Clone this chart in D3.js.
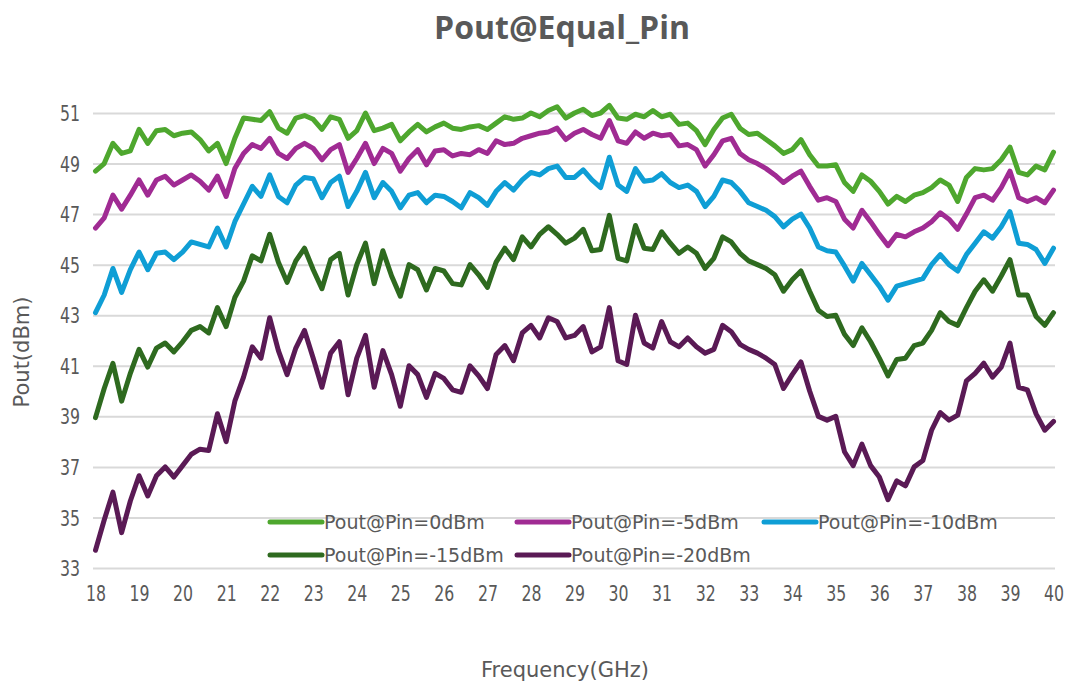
<!DOCTYPE html>
<html>
<head>
<meta charset="utf-8">
<script src="https://cdn.jsdelivr.net/npm/d3@7"></script>
<style>
  body { margin: 0; background: #fff; }
  .tick text { fill: #595959; font-family: "DejaVu Sans", sans-serif; font-size: 21px; }
</style>
</head>
<body>
<script>
var freq = [
  18.0, 18.2, 18.4, 18.6, 18.8, 19.0, 19.2, 19.4, 19.6, 19.8,
  20.0, 20.2, 20.4, 20.6, 20.8, 21.0, 21.2, 21.4, 21.6, 21.8,
  22.0, 22.2, 22.4, 22.6, 22.8, 23.0, 23.2, 23.4, 23.6, 23.8,
  24.0, 24.2, 24.4, 24.6, 24.8, 25.0, 25.2, 25.4, 25.6, 25.8,
  26.0, 26.2, 26.4, 26.6, 26.8, 27.0, 27.2, 27.4, 27.6, 27.8,
  28.0, 28.2, 28.4, 28.6, 28.8, 29.0, 29.2, 29.4, 29.6, 29.8,
  30.0, 30.2, 30.4, 30.6, 30.8, 31.0, 31.2, 31.4, 31.6, 31.8,
  32.0, 32.2, 32.4, 32.6, 32.8, 33.0, 33.2, 33.4, 33.6, 33.8,
  34.0, 34.2, 34.4, 34.6, 34.8, 35.0, 35.2, 35.4, 35.6, 35.8,
  36.0, 36.2, 36.4, 36.6, 36.8, 37.0, 37.2, 37.4, 37.6, 37.8,
  38.0, 38.2, 38.4, 38.6, 38.8, 39.0, 39.2, 39.4, 39.6, 39.8,
  40.0
];

var pin0 = [
  48.7, 49.0, 49.8, 49.4, 49.5, 50.35, 49.8, 50.3, 50.35, 50.1,
  50.2, 50.25, 49.95, 49.5, 49.8, 49.0, 50.0, 50.8, 50.75, 50.7,
  51.05, 50.4, 50.2, 50.8, 50.9, 50.75, 50.35, 50.85, 50.75, 50.0,
  50.3, 51.0, 50.3, 50.4, 50.55, 49.9, 50.25, 50.55, 50.25, 50.45,
  50.6, 50.4, 50.35, 50.45, 50.5, 50.35, 50.6, 50.85, 50.75, 50.8,
  51.0, 50.85, 51.1, 51.25, 50.8, 51.0, 51.15, 50.9, 51.0, 51.3,
  50.8, 50.75, 50.95, 50.85, 51.1, 50.85, 50.95, 50.55, 50.6, 50.3,
  49.75, 50.35, 50.8, 50.95, 50.4, 50.15, 50.2, 49.95, 49.7, 49.4,
  49.55, 49.95, 49.35, 48.9, 48.9, 48.95, 48.25, 47.9, 48.55, 48.3,
  47.9, 47.4, 47.7, 47.5, 47.75, 47.85, 48.05, 48.35, 48.15, 47.5,
  48.45, 48.8, 48.75, 48.8, 49.15, 49.65, 48.65, 48.55, 48.9, 48.75,
  49.45
];

var pinM5 = [
  46.45, 46.85, 47.75, 47.2, 47.75, 48.35, 47.75, 48.35, 48.5, 48.15,
  48.35, 48.55, 48.3, 47.95, 48.5, 47.7, 48.8, 49.4, 49.75, 49.6,
  50.0, 49.4, 49.2, 49.6, 49.8, 49.6, 49.15, 49.55, 49.75, 48.65,
  49.2, 49.8, 49.0, 49.6, 49.4, 48.7, 49.2, 49.55, 48.95, 49.5,
  49.55, 49.3, 49.4, 49.35, 49.55, 49.4, 49.9, 49.75, 49.8, 50.0,
  50.1, 50.2, 50.25, 50.4, 49.95, 50.2, 50.35, 50.15, 50.0, 50.7,
  49.9, 49.8, 50.25, 50.0, 50.2, 50.1, 50.15, 49.7, 49.75, 49.55,
  48.9, 49.35, 49.9, 50.0, 49.4, 49.15, 49.0, 48.8, 48.55, 48.25,
  48.5, 48.7, 48.1, 47.55, 47.65, 47.5, 46.8, 46.45, 47.15, 46.7,
  46.2, 45.75, 46.2, 46.1, 46.3, 46.45, 46.7, 47.05, 46.8, 46.4,
  47.0, 47.65, 47.75, 47.55, 48.05, 48.7, 47.65, 47.5, 47.65, 47.45,
  47.95
];

var pinM10 = [
  43.1, 43.8, 44.85, 43.9, 44.8, 45.5, 44.8, 45.45, 45.5, 45.2,
  45.5, 45.9, 45.8, 45.7, 46.45, 45.7, 46.7, 47.4, 48.1, 47.7,
  48.55, 47.7, 47.45, 48.15, 48.45, 48.4, 47.65, 48.25, 48.5, 47.3,
  47.9, 48.65, 47.65, 48.25, 47.9, 47.25, 47.75, 47.85, 47.45, 47.75,
  47.7, 47.5, 47.25, 47.85, 47.65, 47.35, 47.9, 48.25, 47.95, 48.35,
  48.65, 48.55, 48.8, 48.9, 48.45, 48.45, 48.75, 48.35, 48.05, 49.25,
  48.15, 47.9, 48.8, 48.3, 48.35, 48.6, 48.25, 48.05, 48.15, 47.9,
  47.3, 47.7, 48.35, 48.25, 47.9, 47.45, 47.3, 47.15, 46.9, 46.5,
  46.8, 47.0, 46.45, 45.7, 45.55, 45.5, 44.95, 44.35, 45.05, 44.6,
  44.15, 43.6, 44.15, 44.25, 44.35, 44.45, 45.0, 45.4, 45.0, 44.75,
  45.4, 45.85, 46.3, 46.05, 46.5, 47.1, 45.85, 45.8, 45.6, 45.05,
  45.65
];

var pinM15 = [
  38.95, 40.1, 41.1, 39.6, 40.7, 41.65, 40.95, 41.7, 41.9, 41.55,
  41.95, 42.4, 42.55, 42.3, 43.3, 42.55, 43.7, 44.35, 45.35, 45.15,
  46.2, 45.1, 44.3, 45.15, 45.65, 44.8, 44.05, 45.2, 45.45, 43.8,
  45.0, 45.85, 44.25, 45.55, 44.55, 43.75, 45.0, 44.8, 44.0, 44.85,
  44.75, 44.25, 44.2, 45.0, 44.6, 44.1, 45.1, 45.65, 45.2, 46.1,
  45.7, 46.2, 46.5, 46.2, 45.85, 46.05, 46.4, 45.55, 45.6, 46.95,
  45.25, 45.15, 46.55, 45.65, 45.6, 46.3, 45.85, 45.45, 45.7, 45.45,
  44.85, 45.25, 46.1, 45.9, 45.45, 45.15, 45.0, 44.85, 44.6, 43.95,
  44.4, 44.75, 43.95, 43.2, 42.95, 43.0, 42.25, 41.8, 42.5, 41.95,
  41.3, 40.6, 41.25, 41.3, 41.8, 41.9, 42.4, 43.1, 42.75, 42.6,
  43.3, 43.95, 44.4, 43.95, 44.55, 45.2, 43.8, 43.8, 42.95, 42.6,
  43.1
];

var pinM20 = [
  33.7, 34.9, 36.0, 34.4, 35.65, 36.65, 35.85, 36.65, 37.0, 36.6,
  37.05, 37.5, 37.7, 37.65, 39.1, 38.0, 39.6, 40.55, 41.75, 41.3,
  42.9, 41.6, 40.65, 41.7, 42.4, 41.3, 40.15, 41.5, 41.95, 39.85,
  41.3, 42.2, 40.15, 41.6, 40.65, 39.4, 41.0, 40.65, 39.75, 40.7,
  40.5, 40.05, 39.95, 41.0, 40.6, 40.1, 41.45, 41.8, 41.2, 42.3,
  42.6, 42.1, 42.9, 42.75, 42.1, 42.2, 42.55, 41.55, 41.75, 43.3,
  41.2, 41.05, 43.0, 41.9, 41.7, 42.75, 41.95, 41.75, 42.1, 41.75,
  41.5, 41.65, 42.6, 42.35, 41.85, 41.65, 41.5, 41.3, 41.05, 40.1,
  40.65, 41.15, 40.0, 39.0, 38.85, 39.0, 37.6, 37.05, 37.9, 37.05,
  36.6, 35.7, 36.45, 36.25, 37.0, 37.25, 38.45, 39.15, 38.85, 39.05,
  40.4, 40.7, 41.1, 40.55, 40.95, 41.9, 40.15, 40.05, 39.1, 38.45,
  38.8
];

var seriesNames = ["Pout@Pin=0dBm", "Pout@Pin=-5dBm", "Pout@Pin=-10dBm", "Pout@Pin=-15dBm", "Pout@Pin=-20dBm"];
var seriesValues = [pin0, pinM5, pinM10, pinM15, pinM20];
var seriesColors = ["#4ea72e", "#a02b93", "#0f9ed5", "#2e6a1f", "#5a1a55"];

var xTicks = [18, 19, 20, 21, 22, 23, 24, 25, 26, 27, 28, 29, 30, 31, 32, 33, 34, 35, 36, 37, 38, 39, 40];
var yTicks = [33, 35, 37, 39, 41, 43, 45, 47, 49, 51];

var width = 1071, height = 686;
var gridLeft = 93, gridRight = 1055;
var narrow = 0.75; // tick labels are a condensed face in the original

var x = d3.scaleLinear().domain([18, 40]).range([95.5, 1053.5]);
var y = d3.scaleLinear().domain([33, 51]).range([568, 113]);

var svg = d3.select("body").append("svg")
    .attr("width", width)
    .attr("height", height);

// gridlines + y labels
var yAxis = svg.append("g")
    .attr("transform", "translate(" + gridLeft + ",0)")
    .call(d3.axisLeft(y).tickValues(yTicks).tickSize(-(gridRight - gridLeft)).tickPadding(13));
yAxis.select(".domain").remove();
yAxis.selectAll(".tick line").attr("stroke", "#d9d9d9").attr("stroke-width", 2);
yAxis.selectAll(".tick text")
    .attr("dy", "0.36em")
    .attr("x", -13 / narrow)
    .attr("transform", "scale(" + narrow + ",1)");

// x labels
var xAxis = svg.append("g")
    .attr("transform", "translate(0," + y(33) + ")")
    .call(d3.axisBottom(x).tickValues(xTicks).tickSize(0).tickPadding(18));
xAxis.select(".domain").remove();
xAxis.selectAll(".tick text").attr("transform", "scale(" + narrow + ",1)");

// series lines
var line = d3.line()
    .x(function(d, i) { return x(freq[i]); })
    .y(function(d) { return y(d); });

svg.append("g").selectAll("path")
    .data(seriesValues)
  .enter().append("path")
    .attr("d", line)
    .attr("fill", "none")
    .attr("stroke", function(d, i) { return seriesColors[i]; })
    .attr("stroke-width", 5)
    .attr("stroke-linejoin", "round")
    .attr("stroke-linecap", "round");

// legend
var legend = svg.append("g").selectAll("g")
    .data(seriesNames)
  .enter().append("g")
    .attr("transform", function(d, i) {
      var col = i % 3, row = Math.floor(i / 3);
      return "translate(" + (270 + col * 247) + "," + (522 + row * 33) + ")";
    });

legend.append("line")
    .attr("x1", 0).attr("x2", 52)
    .attr("stroke", function(d, i) { return seriesColors[i]; })
    .attr("stroke-width", 5)
    .attr("stroke-linecap", "round");

legend.append("text")
    .attr("x", 54)
    .attr("dy", "0.36em")
    .style("font-family", "'DejaVu Sans', sans-serif")
    .style("font-size", "19px")
    .style("fill", "#595959")
    .text(function(d) { return d; });

// titles
svg.append("text")
    .attr("x", 562).attr("y", 39)
    .attr("text-anchor", "middle")
    .style("font-family", "'Open Sans', sans-serif")
    .style("font-weight", "bold")
    .style("font-size", "32px")
    .style("fill", "#595959")
    .text("Pout@Equal_Pin");

svg.append("text")
    .attr("transform", "translate(29,352) rotate(-90)")
    .attr("text-anchor", "middle")
    .style("font-family", "'DejaVu Sans', sans-serif")
    .style("font-size", "21px")
    .style("fill", "#595959")
    .text("Pout(dBm)");

svg.append("text")
    .attr("x", 565).attr("y", 677)
    .attr("text-anchor", "middle")
    .style("font-family", "'DejaVu Sans', sans-serif")
    .style("font-size", "21px")
    .style("fill", "#595959")
    .text("Frequency(GHz)");
</script>
</body>
</html>
